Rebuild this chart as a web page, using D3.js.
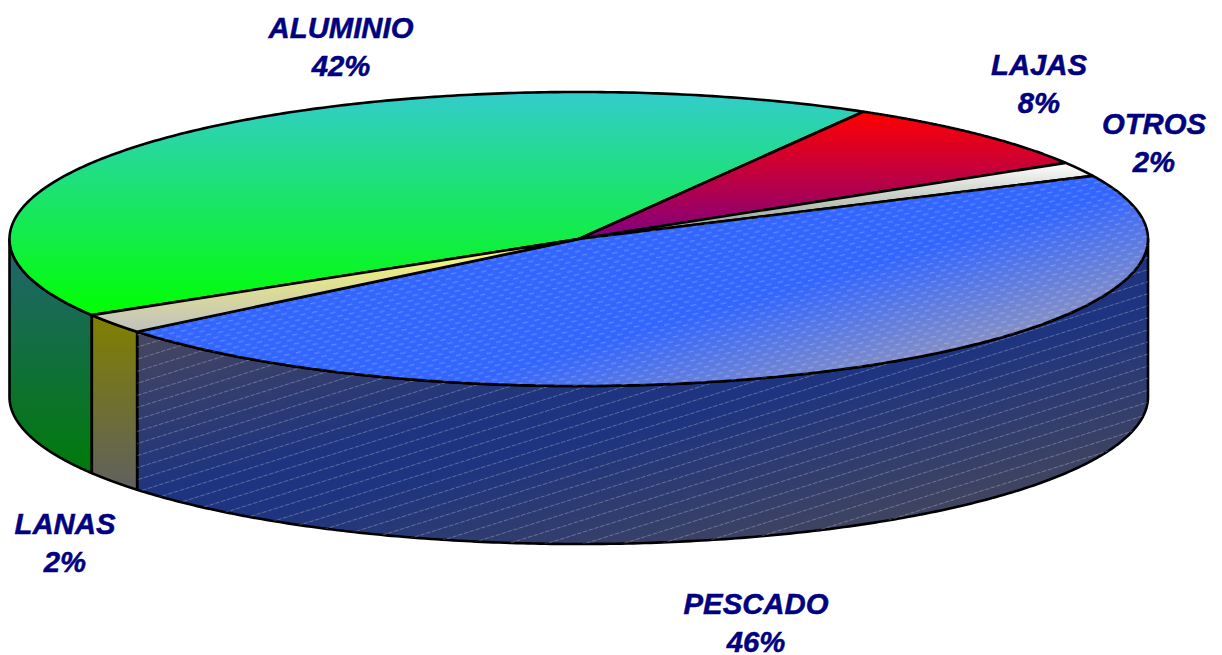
<!DOCTYPE html>
<html>
<head>
<meta charset="utf-8">
<script src="https://cdn.jsdelivr.net/npm/d3@7"></script>
<style>
  html, body { margin: 0; background: #fff; }
  svg { display: block; }
  text { font-family: "Liberation Sans", Arial, sans-serif; font-weight: bold; font-style: italic; font-size: 29.3px; fill: #000080; stroke: #000080; stroke-width: 0.5px; text-anchor: middle; }
</style>
</head>
<body>
<script>
const categories = ["ALUMINIO", "LAJAS", "OTROS", "PESCADO", "LANAS"];
const shares = [42, 8, 1.6, 46.2, 2.2];
const percentLabels = ["42%", "8%", "2%", "46%", "2%"];

const topColors = [
    ["#33cccc", "#00ff00"],
    ["#ff0000", "#800080"],
    ["#ffffff", "#80947c"],
    ["#3366ff", "#9296bc"],
    ["#ffff66", "#c0c0c0"]
];
const sideColors = [
    ["#226470", "#007a0a"],
    ["#800000", "#400040"],
    ["#808080", "#404040"],
    ["#46465f", "#1e3480", "#1e3480", "#44465c"],
    ["#808000", "#606060"]
];

const width = 1222;
const height = 655;

// label centres, first line baseline
const labelPos = {
    ALUMINIO: [341, 38],
    LAJAS: [1039, 75],
    OTROS: [1154, 134],
    PESCADO: [756, 614],
    LANAS: [65, 534]
};
const lineStep = 38;

const svg = d3.select("body").append("svg")
    .attr("width", width)
    .attr("height", height);

const x = d3.scaleLinear().domain([-1, 1]).range([9.5, 1148]);
const y = d3.scaleLinear().domain([-1, 1]).range([92, 386]);
const depth = 158;

const pie = d3.pie()
    .sort(null)
    .startAngle(238.8 * Math.PI / 180)
    .endAngle((238.8 + 360) * Math.PI / 180);

const slices = pie(shares).map((d, i) => ({ ...d, name: categories[i], i }));

const line = d3.line();
const rim = (a0, a1, dy) => d3.range(0, 1.0001, 1 / 240).map(t => {
    const a = a0 + (a1 - a0) * t;
    return [x(Math.sin(a)), y(-Math.cos(a)) + dy];
});

const defs = svg.append("defs");

function makeGradient(id, colors, coords, offsets) {
    const g = defs.append("linearGradient").attr("id", id);
    if (coords) {
        g.attr("gradientUnits", "userSpaceOnUse")
            .attr("x1", coords[0]).attr("y1", coords[1])
            .attr("x2", coords[2]).attr("y2", coords[3]);
    } else {
        g.attr("x1", 0).attr("y1", 0).attr("x2", 0).attr("y2", 1);
    }
    colors.forEach((c, k) => {
        g.append("stop")
            .attr("offset", offsets ? offsets[k] : k / (colors.length - 1))
            .attr("stop-color", c);
    });
}

slices.forEach(d => {
    if (d.name === "PESCADO") {
        // this slice shades on the diagonal, the rest straight down
        makeGradient("top" + d.i, topColors[d.i], [900, 255, 935, 375]);
        makeGradient("side" + d.i, sideColors[d.i], [605, 226, 689, 586], [0, 0.42, 0.55, 1]);
    } else {
        makeGradient("top" + d.i, topColors[d.i]);
        makeGradient("side" + d.i, sideColors[d.i]);
    }
});

// dashes on the blue slice
const topPattern = defs.append("pattern")
    .attr("id", "topDash")
    .attr("patternUnits", "userSpaceOnUse")
    .attr("width", 12)
    .attr("height", 9)
    .attr("patternTransform", "rotate(-12)");
topPattern.append("rect").attr("x", 0).attr("y", 1).attr("width", 5.5).attr("height", 1.2).attr("fill", "#fff").attr("opacity", 0.22);
topPattern.append("rect").attr("x", 6).attr("y", 5.5).attr("width", 5.5).attr("height", 1.2).attr("fill", "#fff").attr("opacity", 0.22);

const sidePattern = defs.append("pattern")
    .attr("id", "sideDash")
    .attr("patternUnits", "userSpaceOnUse")
    .attr("width", 6)
    .attr("height", 11.5)
    .attr("patternTransform", "rotate(-17.5)");
sidePattern.append("rect").attr("x", 0).attr("y", 4).attr("width", 4.5).attr("height", 0.8).attr("fill", "#fff").attr("opacity", 0.32);

// side walls, only the part facing the viewer (angles run past a full turn)
const frontWindows = [[90, 270], [450, 630]].map(w => w.map(a => a * Math.PI / 180));
const sides = slices
    .flatMap(d => frontWindows.map(w => ({
        ...d,
        a0: Math.max(d.startAngle, w[0]),
        a1: Math.min(d.endAngle, w[1])
    })))
    .filter(d => d.a1 > d.a0);

const sidePath = d => line([...rim(d.a0, d.a1, 0), ...rim(d.a1, d.a0, depth)]) + "Z";
const topPath = d => line([[x(0), y(0)], ...rim(d.startAngle, d.endAngle, 0)]) + "Z";

const strokeW = 2.6;

svg.append("g").selectAll("path")
    .data(sides)
    .join("path")
    .attr("d", sidePath)
    .attr("fill", d => `url(#side${d.i})`)
    .attr("stroke", "#000")
    .attr("stroke-width", strokeW)
    .attr("stroke-linejoin", "round");

svg.append("path")
    .datum(sides.find(d => d.name === "PESCADO"))
    .attr("d", sidePath)
    .attr("fill", "url(#sideDash)");

svg.append("g").selectAll("path")
    .data(slices)
    .join("path")
    .attr("d", topPath)
    .attr("fill", d => `url(#top${d.i})`)
    .attr("stroke", "#000")
    .attr("stroke-width", strokeW)
    .attr("stroke-linejoin", "round");

svg.append("path")
    .datum(slices.find(d => d.name === "PESCADO"))
    .attr("d", topPath)
    .attr("fill", "url(#topDash)");

const labels = svg.append("g").selectAll("g")
    .data(slices)
    .join("g")
    .attr("transform", d => `translate(${labelPos[d.name][0]},${labelPos[d.name][1]})`);

labels.append("text").text(d => d.name);
labels.append("text").attr("y", lineStep).text(d => percentLabels[d.i]);
</script>
</body>
</html>
